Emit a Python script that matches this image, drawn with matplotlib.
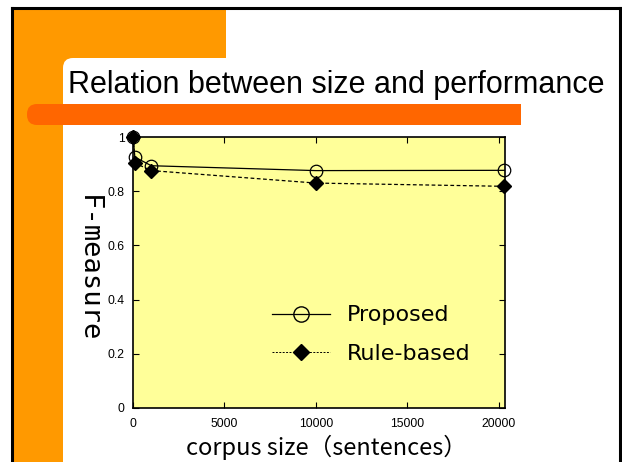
import matplotlib
matplotlib.use("Agg")
import matplotlib.pyplot as plt
from matplotlib.patches import Rectangle, FancyBboxPatch
from matplotlib.lines import Line2D

# data
corpus_size = [10, 100, 1000, 10000, 20300]
proposed = [1.0, 0.926, 0.894, 0.876, 0.877]
rule_based = [1.0, 0.904, 0.876, 0.830, 0.818]
xticks = [0, 5000, 10000, 15000, 20000]
yticks = [0, 0.2, 0.4, 0.6, 0.8, 1]
ytick_labels = ["0", "0.2", "0.4", "0.6", "0.8", "1"]

W, H = 622, 462
fig = plt.figure(figsize=(W / 100, H / 100), dpi=100)

# slide background (pixel coordinates)
bg = fig.add_axes([0, 0, 1, 1])
bg.set_xlim(0, W)
bg.set_ylim(H, 0)
bg.axis("off")

orange = "#FF9900"
bg.add_patch(Rectangle((13, 9), 213, 70, color=orange, lw=0))
bg.add_patch(Rectangle((13, 9), 50, H, color=orange, lw=0))
bg.add_patch(FancyBboxPatch((63, 58), 600, 60, boxstyle="round,pad=0,rounding_size=10",
                            color="white", lw=0))
# red bar, rounded only on the left
bg.add_patch(FancyBboxPatch((27, 104), 60, 21, boxstyle="round,pad=0,rounding_size=10",
                            color="#FF6600", lw=0))
bg.add_patch(Rectangle((45, 104), 476, 21, color="#FF6600", lw=0))

# slide frame
bg.plot([12, 620], [8, 8], color="black", lw=2.2)
bg.plot([12, 12], [8, H], color="black", lw=2.2)
bg.plot([620, 620], [8, H], color="black", lw=2.2)

bg.text(68, 93, "Relation between size and performance", fontsize=22,
        family="Liberation Sans", ha="left", va="baseline")

# chart
ax = fig.add_axes([133 / W, (H - 408) / H, 372 / W, 271 / H])
ax.set_facecolor("#FFFF99")

ax.plot(corpus_size, proposed, color="black", lw=0.9, marker="o", ms=9,
        mfc="none", mec="black", mew=0.9, clip_on=False, zorder=3, label="Proposed")
ax.plot(corpus_size, rule_based, color="black", lw=0.9, ls=(0, (3, 2)), marker="D", ms=7,
        mfc="black", mec="black", clip_on=False, zorder=3, label="Rule-based")

ax.set_xlim(0, 20330)
ax.set_ylim(0, 1)
ax.set_xticks(xticks)
ax.set_yticks(yticks)
ax.set_yticklabels(ytick_labels)
ax.tick_params(direction="in", top=True, right=True, length=4, width=0.8,
               labelsize=8.7, pad=6)
ax.tick_params(axis="x", pad=7)
for lab in ax.get_xticklabels() + ax.get_yticklabels():
    lab.set_family("Liberation Sans")
for sp in ax.spines.values():
    sp.set_linewidth(1.2)

ax.set_xlabel("corpus size（sentences）", fontsize=17, family=["Noto Sans CJK JP"],
              va="center")
ax.xaxis.set_label_coords(0.52, -0.144)
ax.set_ylabel("F-measure", fontsize=19.5, family=["DejaVu Sans Mono"], rotation=-90,
              va="center", ha="center")
ax.yaxis.set_label_coords(-0.122, 0.515)

leg_handles = [
    Line2D([], [], color="black", lw=0.9, marker="o", ms=11, mfc="none", mec="black"),
    Line2D([], [], color="black", lw=0.7, ls=(0, (2, 1.5)), marker="D", ms=8, mfc="black"),
]
ax.legend(leg_handles, ["Proposed", "Rule-based"], loc="center left",
          bbox_to_anchor=(0.321, 0.27), frameon=False, handlelength=2.57,
          prop={"family": "DejaVu Sans", "size": 16}, labelspacing=0.85, handletextpad=0.77)

fig.savefig("out.png", dpi=100)
